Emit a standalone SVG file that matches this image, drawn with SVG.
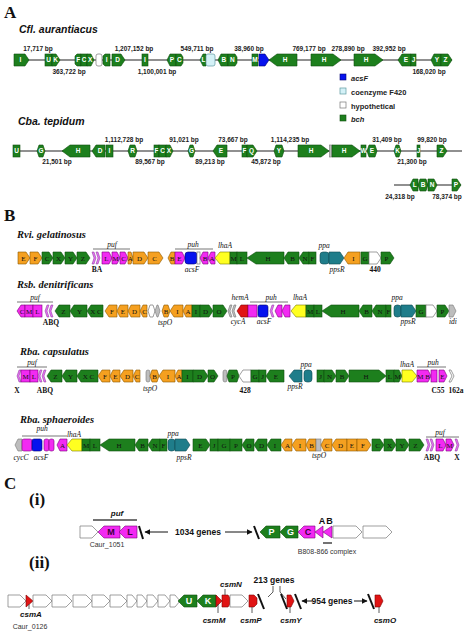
<svg xmlns="http://www.w3.org/2000/svg" width="474" height="632" viewBox="0 0 474 632">
<style>
.bb{stroke:#222;stroke-width:1.2;fill:none}
.g{fill:#1d7f1d;stroke:#0e4d0e;stroke-width:0.6}
.o{fill:#f5a020;stroke:#8a5800;stroke-width:0.6}
.m{fill:#f22af2;stroke:#7a007a;stroke-width:0.6}
.ml{fill:#e070ee;stroke:#8a3a9a;stroke-width:0.5}
.t{fill:#1f7d8a;stroke:#0d4a52;stroke-width:0.6}
.y{fill:#ffff20;stroke:#7a7a00;stroke-width:0.6}
.b{fill:#0612ee;stroke:#000070;stroke-width:0.6}
.r{fill:#e01414;stroke:#800000;stroke-width:0.6}
.gr{fill:#bdbdbd;stroke:#777;stroke-width:0.6}
.w{fill:#fff;stroke:#777;stroke-width:0.7}
.cy{fill:#d4f1f7;stroke:#5e9aa0;stroke-width:0.7}
.la{font-family:"Liberation Sans",Arial,sans-serif;font-weight:bold;font-size:6.5px;fill:#fff;text-anchor:middle}
.bp{font-family:"Liberation Sans",Arial,sans-serif;font-weight:bold;font-size:6.5px;fill:#222;text-anchor:middle}
.lg{font-family:"Liberation Sans",Arial,sans-serif;font-weight:bold;font-size:7.5px;fill:#222}
.sa{font-family:"Liberation Sans",Arial,sans-serif;font-weight:bold;font-style:italic;font-size:10.5px;fill:#111}
.sb{font-family:"Liberation Serif","Times New Roman",serif;font-weight:bold;font-style:italic;font-size:10.5px;fill:#111}
.pl{font-family:"Liberation Serif","Times New Roman",serif;font-weight:bold;font-size:17px;fill:#111}
.lb{font-family:"Liberation Serif","Times New Roman",serif;font-size:7px;fill:#111;text-anchor:middle}
.it{font-family:"Liberation Serif","Times New Roman",serif;font-style:italic;font-size:7.5px;fill:#111;text-anchor:middle}
.bl{font-family:"Liberation Serif","Times New Roman",serif;font-weight:bold;font-size:7.5px;fill:#111;text-anchor:middle}
.ln{stroke:#777;stroke-width:1;fill:none}
.lc{font-family:"Liberation Sans",Arial,sans-serif;font-weight:bold;font-size:9px;text-anchor:middle}
.gn{font-family:"Liberation Sans",Arial,sans-serif;font-weight:bold;font-size:8.5px;fill:#111;text-anchor:middle}
.cs{font-family:"Liberation Sans",Arial,sans-serif;font-weight:bold;font-style:italic;font-size:8px;fill:#111;text-anchor:middle}
.sm{font-family:"Liberation Sans",Arial,sans-serif;font-size:7px;fill:#333;text-anchor:middle}
.sl{stroke:#111;stroke-width:2;fill:none}
.tk{stroke:#333;stroke-width:0.8;fill:none}
.ar{stroke:#111;stroke-width:1;fill:none;marker-end:url(#ah)}
</style>
<defs>
<marker id="ah" viewBox="0 0 10 10" refX="9" refY="5" markerWidth="6" markerHeight="6" markerUnits="userSpaceOnUse" orient="auto"><path d="M0,0 L10,5 L0,10 z" fill="#111"/></marker>
</defs>

<text class="pl" x="4" y="18">A</text>
<text class="sa" x="19" y="33">Cfl. aurantiacus</text>
<g id="cfl-row">
<line class="bb" x1="14" y1="60" x2="452" y2="60"/>
<polygon class="g" points="14,54 25,54 29,60 25,66 14,66"/><text class="la" x="20.5" y="62.3">I</text>
<rect class="g" x="45" y="54" width="7" height="12"/><text class="la" x="48.5" y="62.3">U</text>
<polygon class="g" points="52,54 56,54 60,60 56,66 52,66"/><text class="la" x="55.5" y="62.3">K</text>
<polygon class="g" points="75,56 77,54 81,54 81,66 77,66 75,64"/><text class="la" x="78.2" y="62.3">F</text>
<rect class="g" x="81" y="54" width="6" height="12"/><text class="la" x="84" y="62.3">C</text>
<polygon class="g" points="87,54 91,54 94,60 91,66 87,66"/><text class="la" x="90.2" y="62.3">X</text>
<rect class="w" x="96" y="54" width="6" height="12" rx="2"/>
<polygon class="g" points="103,56 105,54 110,54 110,66 105,66 103,64"/><text class="la" x="106.7" y="62.3">I</text>
<polygon class="g" points="112,54 121,54 125,60 121,66 112,66"/><text class="la" x="117.5" y="62.3">D</text>
<rect class="g" x="142" y="54" width="6" height="12"/><text class="la" x="145" y="62.3">I</text>
<polygon class="g" points="167,60 170,54 176,54 176,66 170,66"/><text class="la" x="172" y="62.3">P</text>
<polygon class="g" points="176,54 181,54 183,57 183,63 181,66 176,66"/><text class="la" x="179.3" y="62.3">C</text>
<polygon class="g" points="200,60 203,54 206,54 206,66 203,66"/><text class="la" x="203.6" y="62.3">L</text>
<rect class="cy" x="206" y="54" width="9" height="12" rx="2"/>
<polygon class="g" points="218,60 221,54 228,54 228,66 221,66"/><text class="la" x="223.8" y="62.3">B</text>
<polygon class="g" points="228,54 235,54 237,57 237,63 235,66 228,66"/><text class="la" x="232.3" y="62.3">N</text>
<rect class="g" x="252" y="54" width="6" height="12"/><text class="la" x="255" y="62.3">M</text>
<polygon class="b" points="259,54 265,54 269,60 265,66 259,66"/>
<polygon class="g" points="269,60 277,54 297,54 297,66 277,66"/><text class="la" x="285" y="62.3">H</text>
<polygon class="g" points="311,54 333,54 341,60 333,66 311,66"/><text class="la" x="324" y="62.3">H</text>
<polygon class="g" points="354,54 375,54 383,60 375,66 354,66"/><text class="la" x="366" y="62.3">H</text>
<polygon class="g" points="398,60 402,54 411,54 411,66 402,66"/><text class="la" x="406" y="62.3">E</text>
<rect class="g" x="411" y="54" width="5" height="12"/><text class="la" x="413.5" y="62.3">J</text>
<polygon class="g" points="431,60 434,54 441,54 441,66 434,66"/><text class="la" x="437" y="62.3">Y</text>
<polygon class="g" points="441,54 448,54 452,60 448,66 441,66"/><text class="la" x="445.5" y="62.3">Z</text>
<text class="bp" x="38" y="51">17,717 bp</text>
<text class="bp" x="69" y="74">363,722 bp</text>
<text class="bp" x="134" y="51">1,207,152 bp</text>
<text class="bp" x="157" y="74">1,100,001 bp</text>
<text class="bp" x="197" y="51">549,711 bp</text>
<text class="bp" x="249" y="51">38,960 bp</text>
<text class="bp" x="309" y="51">769,177 bp</text>
<text class="bp" x="348" y="51">278,890 bp</text>
<text class="bp" x="389" y="51">392,952 bp</text>
<text class="bp" x="429" y="74">168,020 bp</text>
</g>

<g id="legend">
<rect class="b" x="340" y="74" width="6" height="6"/><text class="lg" x="351" y="80.5" font-style="italic">acsF</text>
<rect class="cy" x="340" y="88" width="6" height="6"/><text class="lg" x="351" y="94.5">coenzyme F420</text>
<rect class="w" x="340" y="102" width="6" height="6"/><text class="lg" x="351" y="108.5">hypothetical</text>
<rect class="g" x="340" y="115" width="6" height="6"/><text class="lg" x="351" y="121.5" font-style="italic">bch</text>
</g>

<text class="sa" x="18" y="125">Cba. tepidum</text>
<g id="cba-row">
<line class="bb" x1="13" y1="151" x2="462" y2="151"/>
<rect class="g" x="13" y="145" width="7" height="12"/><text class="la" x="16.5" y="153.3">U</text>
<polygon class="g" points="37,151 39,145 43,145 45,151 43,157 39,157"/><text class="la" x="41" y="153.3">G</text>
<polygon class="g" points="62,151 70,145 90,145 90,157 70,157"/><text class="la" x="78" y="153.3">H</text>
<polygon class="g" points="92,151 96,145 105,145 105,157 96,157"/><text class="la" x="100" y="153.3">D</text>
<rect class="g" x="106" y="145" width="7" height="12"/><text class="la" x="109.5" y="153.3">I</text>
<polygon class="g" points="128,151 130,145 135,145 137,151 135,157 130,157"/><text class="la" x="132.5" y="153.3">R</text>
<rect class="g" x="154" y="145" width="5" height="12"/><text class="la" x="156.5" y="153.3">F</text>
<rect class="g" x="159" y="145" width="7" height="12"/><text class="la" x="162.5" y="153.3">C</text>
<polygon class="g" points="166,145 170,145 173,151 170,157 166,157"/><text class="la" x="169" y="153.3">X</text>
<polygon class="g" points="188,151 190,145 193,145 195,151 193,157 190,157"/><text class="la" x="191.5" y="153.3">G</text>
<polygon class="g" points="213,151 217,145 227,145 227,157 217,157"/><text class="la" x="221" y="153.3">E</text>
<rect class="g" x="242" y="145" width="5" height="12"/><text class="la" x="244.5" y="153.3">F</text>
<polygon class="g" points="247,145 253,145 257,151 253,157 247,157"/><text class="la" x="251.5" y="153.3">Q</text>
<polygon class="g" points="274,151 276,145 282,145 284,151 282,157 276,157"/><text class="la" x="279" y="153.3">Y</text>
<polygon class="g" points="298,145 321,145 329,151 321,157 298,157"/><text class="la" x="311" y="153.3">H</text>
<rect class="gr" x="329.5" y="145" width="2.5" height="12"/>
<polygon class="g" points="332,145 352,145 360,151 352,157 332,157"/><text class="la" x="344" y="153.3">H</text>
<rect class="g" x="361" y="145" width="5" height="12"/><text class="la" x="363.5" y="153.3">W</text>
<polygon class="g" points="367,151 369,145 375,145 377,151 375,157 369,157"/><text class="la" x="372" y="153.3">E</text>
<polygon class="g" points="394,151 396,145 399,145 401,151 399,157 396,157"/><text class="la" x="397.5" y="153.3">K</text>
<rect class="g" x="417" y="145" width="3" height="12"/><text class="la" x="418.5" y="153.3">J</text>
<polygon class="g" points="437,145 443,145 447,151 443,157 437,157"/><text class="la" x="441.5" y="153.3">Z</text>
<text class="bp" x="57" y="164">21,501 bp</text>
<text class="bp" x="124" y="142">1,112,728 bp</text>
<text class="bp" x="150" y="164">89,567 bp</text>
<text class="bp" x="184" y="142">91,021 bp</text>
<text class="bp" x="210" y="164">89,213 bp</text>
<text class="bp" x="233" y="142">73,667 bp</text>
<text class="bp" x="266" y="164">45,872 bp</text>
<text class="bp" x="290" y="142">1,114,235 bp</text>
<text class="bp" x="387" y="142">31,409 bp</text>
<text class="bp" x="412" y="164">21,300 bp</text>
<text class="bp" x="432" y="142">99,820 bp</text>
</g>
<g id="cba-row2">
<line class="bb" x1="394" y1="185" x2="461" y2="185"/>
<polygon class="g" points="410,185 413,179 418,179 418,191 413,191"/><text class="la" x="414.8" y="187.3">L</text>
<polygon class="g" points="418,185 420,179 426,179 428,185 426,191 420,191"/><text class="la" x="423" y="187.3">B</text>
<polygon class="g" points="428,179 434,179 437,185 434,191 428,191"/><text class="la" x="432" y="187.3">N</text>
<polygon class="g" points="452,179 457,179 461,185 457,191 452,191"/><text class="la" x="455.8" y="187.3">P</text>
<text class="bp" x="400" y="199">24,318 bp</text>
<text class="bp" x="447" y="199">78,374 bp</text>
</g>

<text class="pl" x="4" y="221">B</text>
<text class="sb" x="17" y="238">Rvi. gelatinosus</text>
<g id="rvi-row">
<polygon class="o" points="18,252 26,252 30,258 26,264 18,264"/><text class="lb" x="23.5" y="260.5">E</text>
<polygon class="o" points="30,252 38,252 42,258 38,264 30,264"/><text class="lb" x="35.5" y="260.5">F</text>
<polygon class="g" points="42,252 49,252 53,258 49,264 42,264"/><text class="lb" x="47" y="260.5">C</text>
<polygon class="g" points="53,252 61,252 65,258 61,264 53,264"/><text class="lb" x="58.5" y="260.5">X</text>
<polygon class="g" points="65,252 73,252 77,258 73,264 65,264"/><text class="lb" x="70.5" y="260.5">Y</text>
<polygon class="g" points="77,252 86,252 90,258 86,264 77,264"/><text class="lb" x="83" y="260.5">Z</text>
<polygon class="ml" points="92,252 94,252 96,258 94,264 92,264 94,258"/>
<polygon class="ml" points="96,252 98,252 100,258 98,264 96,264 98,258"/>
<polygon class="m" points="102,252 109,252 112,258 109,264 102,264"/><text class="lb" x="106.5" y="260.5">L</text>
<polygon class="m" points="112,252 117,252 120,258 117,264 112,264"/><text class="lb" x="115.5" y="260.5">M</text>
<polygon class="m" points="120,252 125,252 128,258 125,264 120,264"/><text class="lb" x="123.5" y="260.5">C</text>
<polygon class="o" points="128,252 131,252 133,258 131,264 128,264"/><text class="lb" x="130.3" y="260.5" font-size="5">A</text>
<polygon class="o" points="133,252 144,252 148,258 144,264 133,264"/><text class="lb" x="139.5" y="260.5">D</text>
<polygon class="o" points="148,252 159,252 163,258 159,264 148,264"/><text class="lb" x="154.5" y="260.5">C</text>
<polygon class="o" points="168,258 171,252 175,252 175,264 171,264"/><text class="lb" x="172" y="260.5">B</text>
<polygon class="m" points="175,252 182,252 185,258 182,264 175,264"/><text class="lb" x="179.5" y="260.5">E</text>
<rect class="b" x="185" y="252" width="12" height="12" rx="3"/>
<rect class="w" x="197" y="252" width="3" height="12"/>
<polygon class="m" points="200,258 203,252 208,252 208,264 203,264"/><text class="lb" x="205" y="260.5">B</text>
<polygon class="m" points="208,258 211,252 215,252 215,264 211,264"/><text class="lb" x="212" y="260.5">A</text>
<polygon class="y" points="215,258 220,252 230,252 230,264 220,264"/>
<rect class="g" x="230" y="252" width="7" height="12"/><text class="lb" x="233.5" y="260.5">M</text>
<rect class="g" x="237" y="252" width="10" height="12"/><text class="lb" x="242" y="260.5">L</text>
<polygon class="g" points="247,258 256,252 284,252 284,264 256,264"/><text class="lb" x="268" y="260.5">H</text>
<polygon class="g" points="284,258 288,252 299,252 299,264 288,264"/><text class="lb" x="292.5" y="260.5">B</text>
<polygon class="g" points="299,258 303,252 309,252 309,264 303,264"/><text class="lb" x="305" y="260.5">N</text>
<rect class="g" x="309" y="252" width="7" height="12"/><text class="lb" x="312.5" y="260.5">F</text>
<rect class="t" x="320" y="252" width="9" height="12" rx="3"/>
<polygon class="t" points="329,252 340,252 344,258 340,264 329,264"/>
<polygon class="o" points="344,258 348,252 360,252 360,264 348,264"/><text class="lb" x="353.5" y="260.5">I</text>
<rect class="g" x="361" y="252" width="8" height="12"/><text class="lb" x="365" y="260.5">G</text>
<polygon class="w" points="369,252 377,252 381,258 377,264 369,264"/>
<polygon class="g" points="381,252 390,252 394,258 390,264 381,264"/><text class="lb" x="386.5" y="260.5">P</text>
<line class="ln" x1="93" y1="249" x2="130" y2="249"/><text class="it" x="112" y="246.5">puf</text>
<line class="ln" x1="175" y1="249" x2="213" y2="249"/><text class="it" x="193" y="246.5">puh</text>
<text class="it" x="225" y="248">lhaA</text>
<text class="it" x="324" y="248">ppa</text>
<text class="bl" x="97" y="272">BA</text>
<text class="it" x="192" y="272">acsF</text>
<text class="it" x="337" y="272">ppsR</text>
<text class="bl" x="375" y="272">440</text>
</g>

<text class="sb" x="17" y="288">Rsb. denitrificans</text>
<g id="rsb-row">
<polygon class="m" points="17,311 21,305 25,305 25,317 21,317"/><text class="lb" x="22" y="313.5">C</text>
<rect class="m" x="25" y="305" width="8" height="12"/><text class="lb" x="29" y="313.5">M</text>
<rect class="m" x="33" y="305" width="9" height="12"/><text class="lb" x="37.5" y="313.5">L</text>
<polygon class="ml" points="49,305 47,305 45,311 47,317 49,317 47,311"/>
<polygon class="ml" points="53,305 51,305 49,311 51,317 53,317 51,311"/>
<polygon class="g" points="55,311 59,305 70,305 70,317 59,317"/><text class="lb" x="63.5" y="313.5">Z</text>
<polygon class="g" points="70,311 74,305 87,305 87,317 74,317"/><text class="lb" x="79.5" y="313.5">Y</text>
<polygon class="g" points="87,311 91,305 103,305 103,317 91,317"/><text class="lb" x="96" y="313.5">X C</text>
<polygon class="o" points="105,311 109,305 117,305 117,317 109,317"/><text class="lb" x="112" y="313.5">F</text>
<polygon class="o" points="117,311 120,305 128,305 128,317 120,317"/><text class="lb" x="123" y="313.5">E</text>
<polygon class="o" points="128,311 131,305 140,305 140,317 131,317"/><text class="lb" x="134.5" y="313.5">D</text>
<polygon class="o" points="140,311 143,305 147,305 147,317 143,317"/><text class="lb" x="144.5" y="313.5">C</text>
<polygon class="w" points="148,311 150,305 153,305 155,311 153,317 150,317"/>
<polygon class="gr" points="155,311 157,305 158,305 160,311 158,317 157,317"/>
<polygon class="o" points="162,311 164,305 168,305 170,311 168,317 164,317"/><text class="lb" x="166" y="313.5">B</text>
<polygon class="o" points="170,311 174,305 183,305 183,317 174,317"/><text class="lb" x="177.5" y="313.5">I</text>
<polygon class="o" points="183,311 186,305 192,305 192,317 186,317"/><text class="lb" x="188" y="313.5">A</text>
<rect class="g" x="192" y="305" width="8" height="12"/><text class="lb" x="196" y="313.5">I</text>
<polygon class="g" points="200,305 209,305 213,311 209,317 200,317"/><text class="lb" x="205.5" y="313.5">D</text>
<polygon class="g" points="213,305 223,305 227,311 223,317 213,317"/><text class="lb" x="219" y="313.5">O</text>
<polygon class="gr" points="232,305 230,305 228,311 230,317 232,317 230,311"/>
<polygon class="gr" points="236,305 234,305 232,311 234,317 236,317 234,311"/>
<polygon class="r" points="237,311 241,305 248,305 248,317 241,317"/>
<rect class="m" x="248" y="305" width="9" height="12"/>
<rect class="b" x="258" y="305" width="10" height="12" rx="2"/>
<polygon class="ml" points="274,305 272,305 270,311 272,317 274,317 272,311"/>
<polygon class="m" points="275,311 278,305 282,305 282,317 278,317"/>
<polygon class="m" points="282,311 285,305 290,305 290,317 285,317"/>
<polygon class="y" points="291,311 296,305 306,305 306,317 296,317"/>
<rect class="g" x="306" y="305" width="8" height="12"/><text class="lb" x="310" y="313.5">M</text>
<rect class="g" x="314" y="305" width="8" height="12"/><text class="lb" x="318" y="313.5">L</text>
<polygon class="g" points="322,311 331,305 359,305 359,317 331,317"/><text class="lb" x="343" y="313.5">H</text>
<polygon class="g" points="359,311 363,305 372,305 372,317 363,317"/><text class="lb" x="366.5" y="313.5">B</text>
<polygon class="g" points="372,311 376,305 386,305 386,317 376,317"/><text class="lb" x="380" y="313.5">N</text>
<rect class="g" x="386" y="305" width="5" height="12"/><text class="lb" x="388.5" y="313.5">F</text>
<rect class="t" x="394" y="305" width="7" height="12" rx="3"/>
<polygon class="t" points="401,305 412,305 416,311 412,317 401,317"/>
<rect class="g" x="416" y="305" width="10" height="12"/><text class="lb" x="421" y="313.5">G</text>
<polygon class="w" points="426,305 433,305 437,311 433,317 426,317"/>
<polygon class="g" points="437,305 445,305 449,311 445,317 437,317"/><text class="lb" x="442.5" y="313.5">P</text>
<polygon class="gr" points="449,305 453,305 456,311 453,317 449,317"/>
<line class="ln" x1="17" y1="302" x2="53" y2="302"/><text class="it" x="35" y="300">puf</text>
<text class="it" x="240" y="300">hemA</text>
<line class="ln" x1="250" y1="302" x2="288" y2="302"/><text class="it" x="271" y="299.5">puh</text>
<text class="it" x="300" y="300">lhaA</text>
<text class="it" x="397" y="300">ppa</text>
<text class="bl" x="51" y="325">ABQ</text>
<text class="it" x="165" y="325">tspO</text>
<text class="it" x="238" y="324">cycA</text>
<text class="it" x="264" y="324">acsF</text>
<text class="it" x="408" y="324">ppsR</text>
<text class="it" x="453" y="324">idi</text>
</g>

<text class="sb" x="20" y="355">Rba. capsulatus</text>
<g id="rca-row">
<polygon class="ml" points="21,370 19,370 17,376 19,382 21,382 19,376"/>
<rect class="m" x="21" y="370" width="9" height="12"/><text class="lb" x="25.5" y="378.5">M</text>
<rect class="m" x="30" y="370" width="8" height="12"/><text class="lb" x="34" y="378.5">L</text>
<polygon class="ml" points="42,370 40,370 38,376 40,382 42,382 40,376"/>
<polygon class="ml" points="46,370 44,370 42,376 44,382 46,382 44,376"/>
<polygon class="g" points="47,376 51,370 62,370 62,382 51,382"/><text class="lb" x="55.5" y="378.5">Z</text>
<polygon class="g" points="62,376 66,370 77,370 77,382 66,382"/><text class="lb" x="70.5" y="378.5">Y</text>
<polygon class="g" points="77,376 81,370 98,370 98,382 81,382"/><text class="lb" x="88.5" y="378.5">X C</text>
<polygon class="o" points="98,376 102,370 110,370 110,382 102,382"/><text class="lb" x="105" y="378.5">F</text>
<polygon class="o" points="110,376 113,370 120,370 120,382 113,382"/><text class="lb" x="115.5" y="378.5">E</text>
<polygon class="o" points="120,376 124,370 133,370 133,382 124,382"/><text class="lb" x="127.5" y="378.5">D</text>
<polygon class="o" points="133,376 136,370 140,370 140,382 136,382"/><text class="lb" x="137" y="378.5">C</text>
<rect class="gr" x="146" y="370" width="4" height="12" rx="2"/>
<polygon class="o" points="150,376 152,370 157,370 159,376 157,382 152,382"/><text class="lb" x="154.5" y="378.5">B</text>
<polygon class="o" points="159,376 163,370 175,370 175,382 163,382"/><text class="lb" x="168" y="378.5">I</text>
<polygon class="o" points="175,376 178,370 182,370 182,382 178,382"/><text class="lb" x="179" y="378.5">A</text>
<rect class="g" x="182" y="370" width="11" height="12"/><text class="lb" x="187.5" y="378.5">I</text>
<polygon class="g" points="193,370 204,370 208,376 204,382 193,382"/><text class="lb" x="199.5" y="378.5">D</text>
<polygon class="g" points="208,370 214,370 218,376 214,382 208,382"/><text class="lb" x="212.5" y="378.5">O</text>
<rect class="gr" x="223" y="370" width="4" height="12" rx="2"/>
<polygon class="g" points="227,376 229,370 237,370 239,376 237,382 229,382"/><text class="lb" x="233" y="378.5">P</text>
<polygon class="w" points="239,376 243,370 251,370 251,382 243,382"/>
<rect class="g" x="251" y="370" width="8" height="12"/><text class="lb" x="255" y="378.5">G</text>
<rect class="g" x="259" y="370" width="7" height="12"/><text class="lb" x="262.5" y="378.5">J</text>
<polygon class="g" points="266,376 270,370 284,370 284,382 270,382"/><text class="lb" x="276" y="378.5">E</text>
<polygon class="t" points="289,376 294,370 302,370 302,382 294,382"/>
<rect class="t" x="304" y="370" width="8" height="12" rx="3"/>
<rect class="g" x="317" y="370" width="7" height="12"/><text class="lb" x="320.5" y="378.5">J</text>
<polygon class="g" points="324,370 332,370 336,376 332,382 324,382"/><text class="lb" x="329.5" y="378.5">N</text>
<polygon class="g" points="336,370 345,370 349,376 345,382 336,382"/><text class="lb" x="342" y="378.5">B</text>
<polygon class="g" points="349,370 379,370 386,376 379,382 349,382"/><text class="lb" x="366" y="378.5">H</text>
<rect class="g" x="386" y="370" width="8" height="12"/><text class="lb" x="390" y="378.5">L</text>
<polygon class="g" points="394,370 399,370 402,376 399,382 394,382"/><text class="lb" x="397.5" y="378.5">M</text>
<polygon class="y" points="402,370 412,370 417,376 412,382 402,382"/>
<polygon class="m" points="417,370 428,370 431,376 428,382 417,382"/><text class="lb" x="423.5" y="378.5">M B</text>
<rect class="m" x="431" y="370" width="6" height="12"/>
<polygon class="m" points="439,370 444,370 447,376 444,382 439,382"/><text class="lb" x="442.5" y="378.5">E</text>
<polygon class="w" points="449,370 451,370 454,376 451,382 449,382 452,376"/>
<line class="ln" x1="17" y1="367" x2="47" y2="367"/><text class="it" x="32" y="365">puf</text>
<text class="it" x="306" y="367">ppa</text>
<text class="it" x="407" y="367">lhaA</text>
<line class="ln" x1="417" y1="367" x2="446" y2="367"/><text class="it" x="433" y="364.5">puh</text>
<text class="bl" x="17" y="393">X</text>
<text class="bl" x="45" y="393">ABQ</text>
<text class="it" x="150" y="391">tspO</text>
<text class="bl" x="245" y="393">428</text>
<text class="it" x="295" y="389">ppsR</text>
<text class="bl" x="438" y="393">C55</text>
<text class="bl" x="456" y="393">162a</text>
</g>

<text class="sb" x="20" y="423">Rba. sphaeroides</text>
<g id="rsp-row">
<polygon class="gr" points="15,445 18,439 22,439 22,451 18,451"/>
<rect class="m" x="22" y="439" width="10" height="12" rx="2"/>
<rect class="b" x="32" y="439" width="10" height="12" rx="2"/>
<rect class="m" x="44" y="439" width="5" height="12" rx="2"/>
<rect class="m" x="49" y="439" width="5" height="12" rx="2"/>
<polygon class="m" points="57,445 60,439 67,439 67,451 60,451"/><text class="lb" x="62.5" y="447.5">A</text>
<polygon class="y" points="67,445 72,439 82,439 82,451 72,451"/>
<rect class="g" x="82" y="439" width="8" height="12"/><text class="lb" x="86" y="447.5">M</text>
<rect class="g" x="90" y="439" width="10" height="12"/><text class="lb" x="95" y="447.5">L</text>
<polygon class="g" points="100,445 109,439 135,439 135,451 109,451"/><text class="lb" x="119" y="447.5">H</text>
<polygon class="g" points="135,445 139,439 148,439 148,451 139,451"/><text class="lb" x="142.5" y="447.5">B</text>
<polygon class="g" points="148,445 152,439 160,439 160,451 152,451"/><text class="lb" x="155" y="447.5">N</text>
<rect class="g" x="160" y="439" width="7" height="12"/><text class="lb" x="163.5" y="447.5">F</text>
<rect class="t" x="168" y="439" width="7" height="12" rx="3"/>
<polygon class="t" points="175,439 186,439 190,445 186,451 175,451"/>
<polygon class="g" points="193,439 206,439 210,445 206,451 193,451"/><text class="lb" x="200.5" y="447.5">E</text>
<rect class="g" x="210" y="439" width="8" height="12"/><text class="lb" x="214" y="447.5">J</text>
<rect class="g" x="218" y="439" width="12" height="12"/><text class="lb" x="224" y="447.5">G</text>
<rect class="g" x="230" y="439" width="12" height="12"/><text class="lb" x="236" y="447.5">P</text>
<polygon class="g" points="242,445 246,439 254,439 254,451 246,451"/><text class="lb" x="249" y="447.5">O</text>
<polygon class="g" points="254,445 258,439 267,439 267,451 258,451"/><text class="lb" x="261.5" y="447.5">D</text>
<polygon class="g" points="267,445 271,439 281,439 281,451 271,451"/><text class="lb" x="275" y="447.5">I</text>
<polygon class="o" points="281,445 285,439 292,439 292,451 285,451"/><text class="lb" x="287.5" y="447.5">A</text>
<polygon class="o" points="292,445 296,439 306,439 306,451 296,451"/><text class="lb" x="300" y="447.5">I</text>
<polygon class="o" points="306,445 309,439 316,439 316,451 309,451"/><text class="lb" x="311.5" y="447.5">B</text>
<rect class="gr" x="316" y="439" width="5" height="12"/>
<polygon class="o" points="321,445 324,439 332,439 332,451 324,451"/><text class="lb" x="327" y="447.5">C</text>
<polygon class="o" points="332,445 336,439 347,439 347,451 336,451"/><text class="lb" x="340.5" y="447.5">D</text>
<rect class="o" x="347" y="439" width="10" height="12"/><text class="lb" x="352" y="447.5">E</text>
<polygon class="o" points="357,439 367,439 371,445 367,451 357,451"/><text class="lb" x="363" y="447.5">F</text>
<polygon class="g" points="372,439 380,439 384,445 380,451 372,451"/><text class="lb" x="377.5" y="447.5">C</text>
<polygon class="g" points="384,439 392,439 396,445 392,451 384,451"/><text class="lb" x="389.5" y="447.5">X</text>
<polygon class="g" points="396,439 405,439 409,445 405,451 396,451"/><text class="lb" x="402" y="447.5">Y</text>
<polygon class="g" points="409,439 420,439 424,445 420,451 409,451"/><text class="lb" x="415.5" y="447.5">Z</text>
<polygon class="ml" points="426,439 428,439 430,445 428,451 426,451 428,445"/>
<polygon class="ml" points="430,439 432,439 434,445 432,451 430,451 432,445"/>
<polygon class="m" points="436,439 443,439 446,445 443,451 436,451"/><text class="lb" x="440.5" y="447.5">L</text>
<polygon class="m" points="446,439 451,439 454,445 451,451 446,451"/><text class="lb" x="449.5" y="447.5">M</text>
<polygon class="ml" points="455,439 457,439 459,445 457,451 455,451 457,445"/>
<line class="ln" x1="22" y1="436" x2="67" y2="436"/><text class="it" x="42" y="431">puh</text>
<text class="it" x="74" y="437">lhaA</text>
<text class="it" x="173" y="436">ppa</text>
<line class="ln" x1="426" y1="437" x2="459" y2="437"/><text class="it" x="440" y="434.5">puf</text>
<text class="it" x="21" y="460">cycC</text>
<text class="it" x="41" y="460">acsF</text>
<text class="it" x="184" y="460">ppsR</text>
<text class="it" x="319" y="458">tspO</text>
<text class="bl" x="432" y="460">ABQ</text>
<text class="bl" x="457" y="460">X</text>
</g>

<text class="pl" x="4" y="489">C</text>
<text class="pl" x="29" y="505" font-size="11">(i)</text>
<g id="c-i">
<polygon class="w" points="80,526 92,526 98,532 92,538 80,538"/>
<polygon class="m" points="98,532 104,526 120,526 120,538 104,538"/><text class="lc" x="111" y="535.3" fill="#3a003a">M</text>
<polygon class="m" points="119,532 125,526 137,526 137,538 125,538"/><text class="lc" x="130" y="535.3" fill="#3a003a">L</text>
<line class="sl" x1="139" y1="526" x2="143" y2="539"/>
<line x1="93" y1="520" x2="137" y2="520" stroke="#444" stroke-width="1.5"/>
<text class="cs" x="117" y="516" font-size="9">puf</text>
<text class="sm" x="107" y="547">Caur_1051</text>
<line class="ar" x1="168" y1="532" x2="145" y2="532"/>
<text class="gn" x="198" y="535">1034 genes</text>
<line class="ar" x1="225" y1="532" x2="252" y2="532"/>
<line class="sl" x1="254" y1="526" x2="259" y2="539"/>
<polygon class="g" points="260,532 266,526 280,526 280,538 266,538"/><text class="lc" x="271.5" y="535.3" fill="#fff">P</text>
<polygon class="g" points="280,532 286,526 298,526 298,538 286,538"/><text class="lc" x="290.5" y="535.3" fill="#fff">G</text>
<polygon class="m" points="298,532 304,526 315,526 315,538 304,538"/><text class="lc" x="308" y="535.3" fill="#3a003a">C</text>
<polygon class="m" points="315,532 323,526 323,538"/>
<polygon class="m" points="323,532 332,526 332,538"/>
<text class="lc" x="322" y="523.5" fill="#111" font-size="8">A</text>
<text class="lc" x="329.5" y="523.5" fill="#111" font-size="8">B</text>
<polygon class="w" points="333,526 356,526 362,532 356,538 333,538"/>
<polygon class="w" points="363,526 386,526 392,532 386,538 363,538"/>
<line x1="323" y1="543" x2="332" y2="543" stroke="#444" stroke-width="1.5"/>
<text class="sm" x="327" y="554" font-size="6.5">B808-866 complex</text>
</g>

<text class="pl" x="29" y="568" font-size="11">(ii)</text>
<g id="c-ii">
<polygon class="w" points="8,595 20,595 26,601 20,607 8,607"/>
<polygon class="r" points="26,595 33,601 26,607"/>
<polygon class="w" points="33,595 46,595 52,601 46,607 33,607"/>
<polygon class="w" points="52,595 66,595 72,601 66,607 52,607"/>
<polygon class="w" points="73,595 86,595 92,601 86,607 73,607"/>
<polygon class="w" points="92,595 104,595 110,601 104,607 92,607"/>
<polygon class="w" points="110,595 121,595 127,601 121,607 110,607"/>
<polygon class="w" points="127,595 132,595 137,601 132,607 127,607"/>
<polygon class="w" points="137,595 142,595 147,601 142,607 137,607"/>
<polygon class="w" points="147,595 153,595 158,601 153,607 147,607"/>
<polygon class="w" points="158,595 165,595 170,601 165,607 158,607"/>
<polygon class="w" points="170,595 175,595 180,601 175,607 170,607"/>
<polygon class="g" points="178,601 184,595 197,595 197,607 184,607"/><text class="lc" x="189" y="604.3" fill="#fff">U</text>
<polygon class="g" points="197,601 203,595 216,595 216,607 203,607"/><text class="lc" x="208" y="604.3" fill="#fff">K</text>
<polygon class="r" points="216,595 222,601 216,607"/>
<polygon class="r" points="222,595 228,595 230,598 230,604 228,607 222,607"/>
<polygon class="w" points="230,595 242,595 248,601 242,607 230,607"/>
<polygon class="r" points="249,595 254,595 257,598 257,604 254,607 249,607"/>
<line class="sl" x1="258" y1="594" x2="264" y2="609"/>
<text class="gn" x="274" y="583">213 genes</text>
<polyline class="tk" points="273,586 273,592 268,597"/>
<polyline class="tk" points="280,586 280,592 286,599"/>
<line class="sl" x1="281" y1="594" x2="287" y2="609"/>
<polygon class="r" points="287,595 291,595 294,601 291,607 287,607"/>
<line class="sl" x1="295" y1="594" x2="301" y2="609"/>
<line class="ar" x1="312" y1="601" x2="302" y2="601"/>
<text class="gn" x="332" y="604">954 genes</text>
<line class="ar" x1="354" y1="601" x2="367" y2="601"/>
<line class="sl" x1="368" y1="594" x2="374" y2="609"/>
<polygon class="r" points="375,595 380,595 383,601 380,607 375,607"/>
<line class="tk" x1="29" y1="604" x2="29" y2="609"/>
<text class="cs" x="31" y="617">csmA</text>
<text class="sm" x="30" y="629">Caur_0126</text>
<line class="tk" x1="225" y1="589" x2="225" y2="595"/>
<text class="cs" x="231" y="587">csmN</text>
<line class="tk" x1="218" y1="604" x2="218" y2="613"/>
<text class="cs" x="214" y="623">csmM</text>
<line class="tk" x1="252" y1="607" x2="252" y2="613"/>
<text class="cs" x="251" y="623">csmP</text>
<line class="tk" x1="290" y1="607" x2="290" y2="613"/>
<text class="cs" x="291" y="623">csmY</text>
<line class="tk" x1="379" y1="607" x2="379" y2="613"/>
<text class="cs" x="385" y="623">csmO</text>
</g>
</svg>
